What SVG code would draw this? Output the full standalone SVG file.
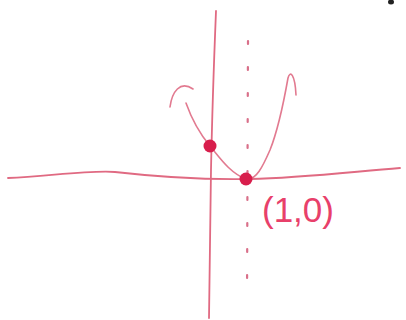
<svg xmlns="http://www.w3.org/2000/svg" width="406" height="320" viewBox="0 0 406 320">
<style>
.ax{fill:none;stroke:#e06a82;stroke-width:1.8;stroke-linecap:round}
.cv{fill:none;stroke:#e27a90;stroke-width:1.6;stroke-linecap:round}
.dash{fill:none;stroke:#d9708a;stroke-width:2.2;stroke-linecap:round;stroke-dasharray:3 23}
.pt{fill:#d81e4c}
.lbl{font-family:"Liberation Sans",Arial,sans-serif;font-size:35px;fill:#e8406a}
</style>
<rect width="406" height="320" fill="#fff"/>
<g id="axes">
<path class="ax" d="M8,178 C50,176 90,170 115,172 C150,176 200,180 250,179 C300,178 350,172 400,168"/>
<path class="ax" d="M216,11 C214,60 212,120 211,170 C210,220 210,270 209,318"/>
<path class="dash" d="M248,41 L247,300"/>
</g>
<g id="parabola">
<path class="cv" d="M170,107 C172,92 180,80 193,89"/>
<path class="cv" d="M186,103 C192,120 200,134 210,146 C220,158 230,173 246,179 C256,181 263,166 270,150 C278,130 285,95 288,78 C290,70 295,74 296,95"/>
</g>
<g id="point-a"><circle class="pt" cx="210" cy="146" r="6.5"/></g>
<g id="point-b"><circle class="pt" cx="246" cy="179" r="6.5"/></g>
<g id="label"><text class="lbl" x="262" y="222">(1,0)</text></g>
<ellipse cx="391" cy="2" rx="3" ry="2.5" fill="#222"/>
</svg>
